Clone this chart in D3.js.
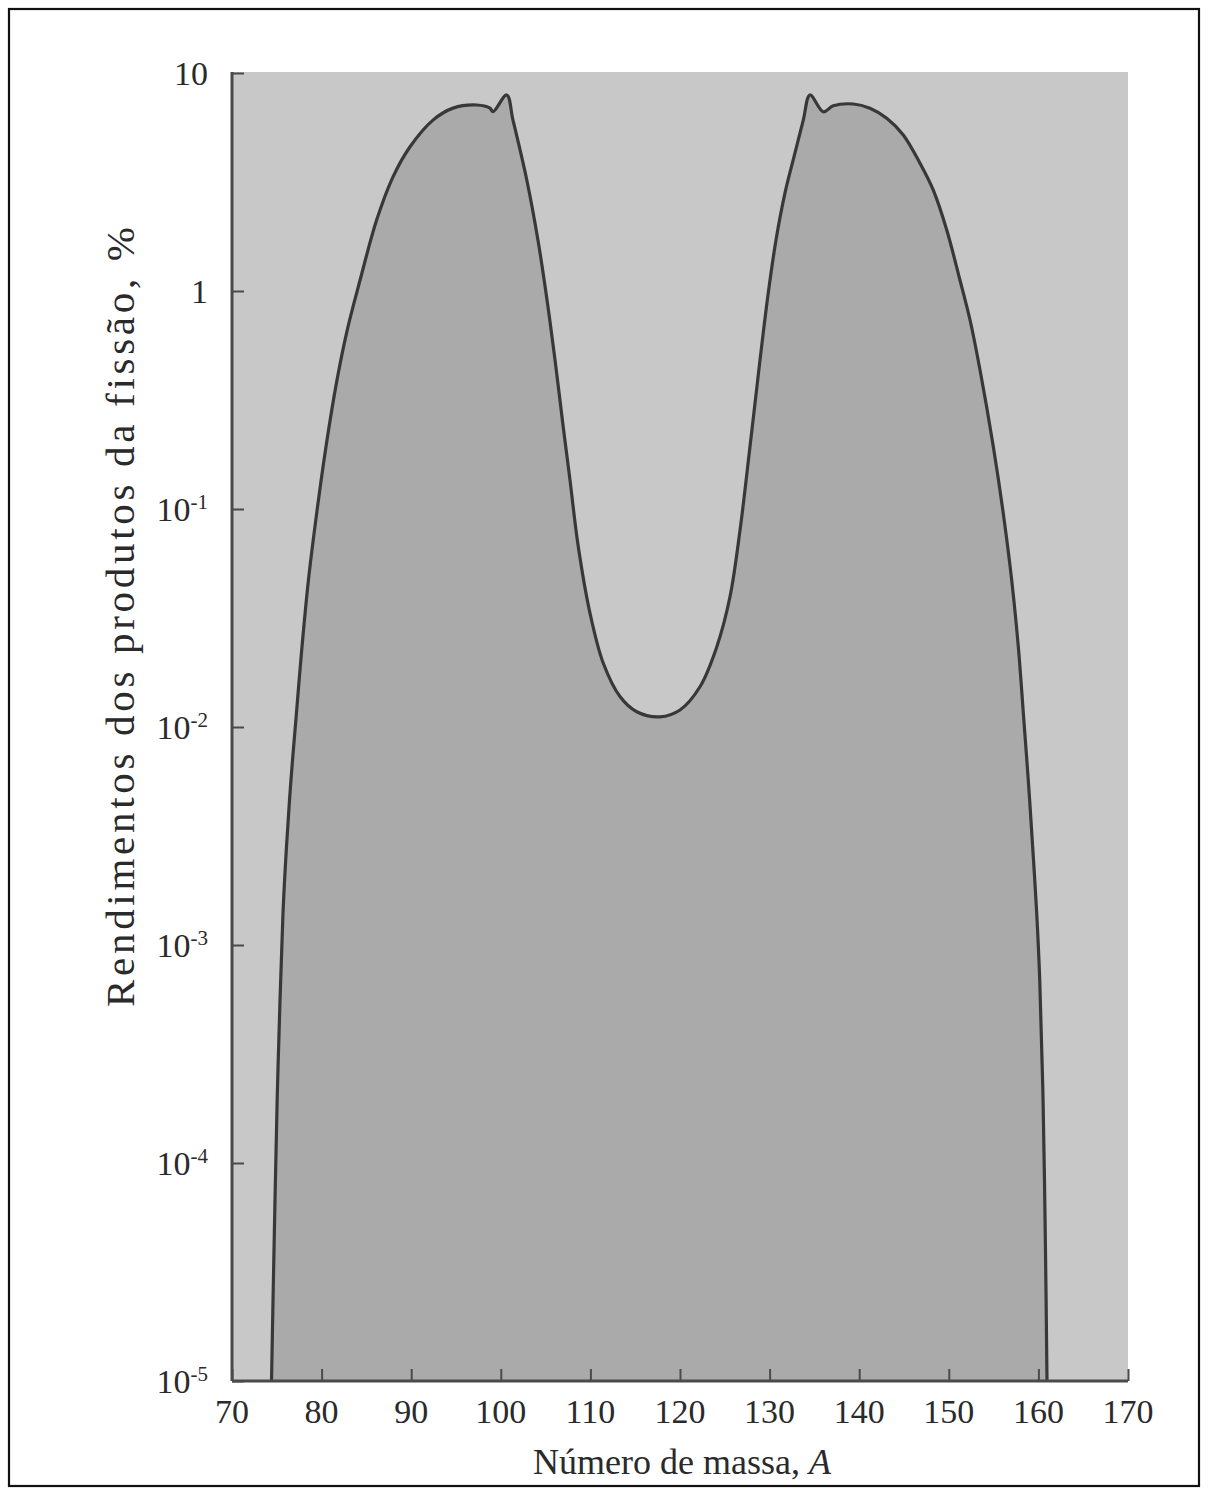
<!DOCTYPE html>
<html>
<head>
<meta charset="utf-8">
<script src="https://cdn.jsdelivr.net/npm/d3@7"></script>
<style>
  html, body { margin: 0; padding: 0; background: #ffffff; }
  svg { display: block; }
  text { font-family: "Liberation Serif", "DejaVu Serif", serif; fill: #2a2a2a; }
</style>
</head>
<body>
<svg id="chart" width="1208" height="1492"></svg>
<script>
// ---- data ----
const massNumbers = [74.41, 74.58, 74.80, 75.04, 75.36, 75.69, 76.08, 76.58, 77.19, 77.81, 78.53, 79.45, 80.49, 81.72, 82.86, 84.29, 86.15, 87.97, 89.87, 92.43, 94.67, 97.31, 98.79, 99.13, 100.66, 101.36, 102.9, 104.15, 105.16, 106.05, 106.94, 107.72, 108.62, 109.96, 111.44, 113.3, 115.17, 117.77, 120.0, 122.23, 124.1, 125.58, 126.7, 127.81, 128.93, 129.82, 130.71, 131.72, 132.72, 133.76, 134.51, 135.99, 137.1, 139.34, 141.2, 143.07, 144.92, 146.79, 148.27, 149.77, 151.25, 152.37, 153.48, 154.97, 156.08, 157.02, 157.76, 158.32, 158.87, 159.36, 159.81, 160.15, 160.52, 160.79, 160.96];
const yields = [1e-5, 2.36e-5, 6.76e-5, 1.94e-4, 5.6e-4, 1.4e-3, 2.82e-3, 5.71e-3, 0.01156, 0.0233, 0.0472, 0.0955, 0.193, 0.391, 0.662, 1.12, 2.12, 3.34, 4.59, 6.08, 6.9, 7.13, 6.9, 6.64, 7.93, 6.08, 3.23, 1.71, 0.909, 0.483, 0.243, 0.136, 0.0684, 0.0332, 0.0196, 0.0138, 0.01175, 0.01114, 0.01197, 0.0153, 0.0233, 0.0396, 0.080, 0.193, 0.483, 0.959, 1.71, 2.82, 4.12, 6.08, 7.93, 6.64, 7.07, 7.21, 6.89, 6.2, 5.2, 3.85, 2.9, 1.905, 1.12, 0.736, 0.435, 0.193, 0.0955, 0.0472, 0.0233, 0.01156, 0.00571, 0.00282, 0.0014, 6.9e-4, 1.94e-4, 4e-5, 1e-5];

const xTickValues = [70, 80, 90, 100, 110, 120, 130, 140, 150, 160, 170];
const yTickValues = [10, 1, 0.1, 0.01, 0.001, 0.0001, 0.00001];
const yTickBases = ["10", "1", "10", "10", "10", "10", "10"];
const yTickExps = ["", "", "-1", "-2", "-3", "-4", "-5"];

const xTitle = "Número de massa, ";
const xTitleVar = "A";
const yTitle = "Rendimentos dos produtos da fissão, %";

(function () {
// ---- layout ----
const svg = d3.select("#chart");
const pLeft = 232, pRight = 1128, pTop = 73, pBottom = 1381;

const x = d3.scaleLinear().domain([70, 170]).range([pLeft, pRight]);
const y = d3.scaleLog().domain([1e-5, 10]).range([pBottom, pTop]);

// outer frame
svg.append("rect")
  .attr("x", 9).attr("y", 9).attr("width", 1190).attr("height", 1477)
  .attr("fill", "#ffffff").attr("stroke", "#111").attr("stroke-width", 2.2);

// plot background
svg.append("rect")
  .attr("x", pLeft).attr("y", pTop - 1)
  .attr("width", pRight - pLeft).attr("height", pBottom - pTop + 1)
  .attr("fill", "#c8c8c8");

const pts = massNumbers.map((m, i) => [m, yields[i]]);
const curve = d3.curveCatmullRom.alpha(0.5);

const area = d3.area()
  .x(d => x(d[0]))
  .y0(y(1e-5))
  .y1(d => y(d[1]))
  .curve(curve);

const line = d3.line()
  .x(d => x(d[0]))
  .y(d => y(d[1]))
  .curve(curve);

svg.append("path").datum(pts)
  .attr("d", area)
  .attr("fill", "#aaaaaa");

svg.append("path").datum(pts)
  .attr("d", line)
  .attr("fill", "none")
  .attr("stroke", "#383838")
  .attr("stroke-width", 3.2)
  .attr("stroke-linejoin", "round");

// axes
const axisColor = "#4a4a4a";
const xAxis = d3.axisBottom(x).tickValues(xTickValues).tickSize(-12).tickFormat("");
const gx = svg.append("g").attr("transform", `translate(0,${pBottom})`).call(xAxis);
gx.select(".domain").attr("d", `M${pLeft},0H${pRight}`).attr("stroke", axisColor).attr("stroke-width", 3);
gx.selectAll(".tick line").attr("stroke", axisColor).attr("stroke-width", 2);

const yAxis = d3.axisLeft(y).tickValues(yTickValues).tickSize(-12).tickFormat("");
const gy = svg.append("g").attr("transform", `translate(${pLeft},0)`).call(yAxis);
gy.select(".domain").attr("d", `M0,${pTop - 1}V${pBottom}`).attr("stroke", axisColor).attr("stroke-width", 3);
gy.selectAll(".tick line").attr("stroke", axisColor).attr("stroke-width", 2);

// x tick labels
svg.append("g").selectAll("text").data(xTickValues).join("text")
  .attr("x", d => x(d))
  .attr("y", pBottom + 42)
  .attr("text-anchor", "middle")
  .attr("font-size", 34)
  .text(d => d);

// y tick labels with superscript exponents
const yl = svg.append("g").selectAll("text").data(yTickValues).join("text")
  .attr("x", pLeft - 24)
  .attr("y", d => y(d) + 12)
  .attr("text-anchor", "end")
  .attr("font-size", 34);
yl.append("tspan").text((d, i) => yTickBases[i]);
yl.append("tspan")
  .attr("font-size", 21)
  .attr("dy", -12)
  .text((d, i) => yTickExps[i]);

// axis titles
const xt = svg.append("text")
  .attr("x", (pLeft + pRight) / 2 + 2)
  .attr("y", 1474)
  .attr("text-anchor", "middle")
  .attr("font-size", 36);
xt.append("tspan").text(xTitle);
xt.append("tspan").attr("font-style", "italic").text(xTitleVar);

svg.append("text")
  .attr("transform", `translate(134,${(pTop + pBottom) / 2 - 110}) rotate(-90)`)
  .attr("text-anchor", "middle")
  .attr("font-size", 41)
  .attr("textLength", 780)
  .attr("lengthAdjust", "spacing")
  .text(yTitle);
})();
</script>
</body>
</html>
